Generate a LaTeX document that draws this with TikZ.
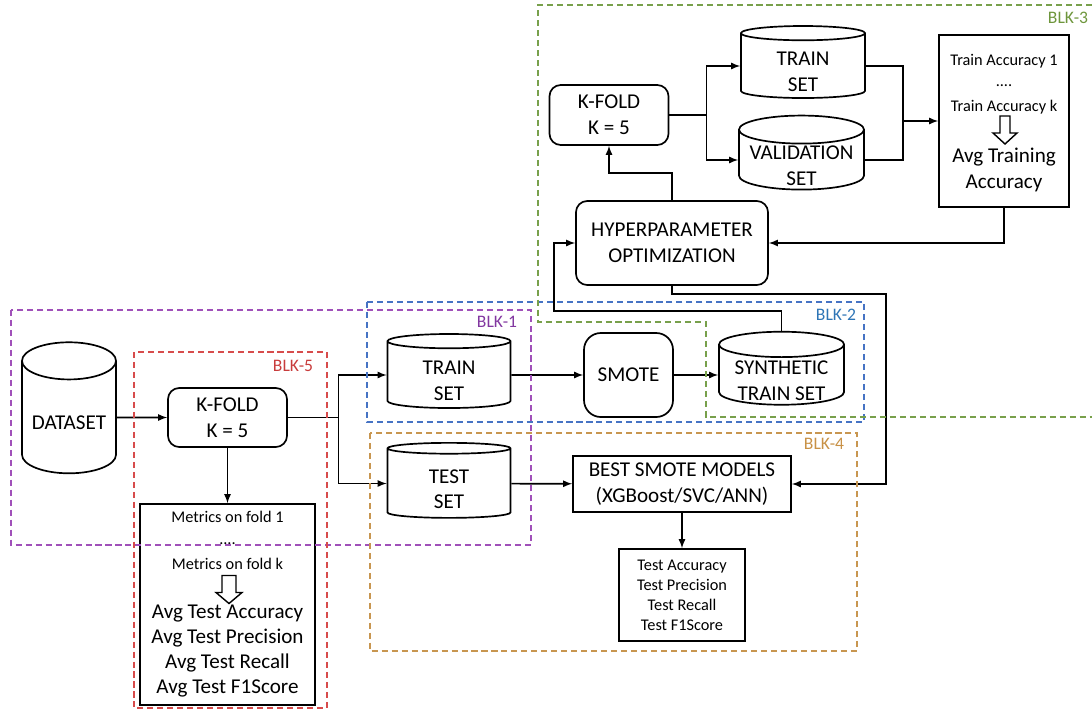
\documentclass[tikz,border=0pt]{standalone}
\usepackage{fontspec}
\setmainfont{Carlito}
\usetikzlibrary{shapes.geometric,positioning}
\definecolor{blkpurple}{RGB}{160,80,185}
\definecolor{blkred}{RGB}{215,75,75}
\definecolor{blkblue}{RGB}{70,115,196}
\definecolor{blkorange}{RGB}{200,150,80}
\definecolor{blkgreen}{RGB}{120,160,75}
\definecolor{lblpurple}{RGB}{130,55,160}
\definecolor{lblred}{RGB}{200,60,60}
\definecolor{lblblue}{RGB}{46,117,182}
\definecolor{lblorange}{RGB}{200,145,70}
\definecolor{lblgreen}{RGB}{110,150,60}
\tikzset{
  big/.style={font=\fontsize{15}{18.3}\selectfont},
  small/.style={font=\fontsize{11.6}{14.2}\selectfont},
  db/.style={cylinder, shape border rotate=90, draw, fill=white, aspect=0.27, align=center,
    inner xsep=0pt, inner ysep=-9pt, big, execute at begin node={\rule{0pt}{#1}}},
  db/.default=36pt,
  rbox/.style={draw, fill=white, rounded corners=8pt, align=center, big},
  sbox/.style={draw, fill=white, align=center},
  blk/.style={dash pattern=on 4.3pt off 2.8pt, line width=1pt},
  blklabel/.style={font=\fontsize{12.5}{15}\selectfont},
  pics/hollowdown/.style n args={2}{code={
    \draw[line width=1pt] (-#1,-14) -- (#1,-14) -- (#1,3) -- (#2,3) -- (0,14) -- (-#2,3) -- (-#1,3) -- cycle;}}
}
\begin{document}
\begin{tikzpicture}[x=0.025cm,y=-0.025cm,>=latex,line width=1.2pt]
\useasboundingbox (0,0) rectangle (1092,711);

% left part
\node[db=17.5pt, aspect=0.5, minimum width=2.35cm, minimum height=3.275cm] (dataset) at (69,417.5) {DATASET};
\node[rbox, minimum width=2.975cm, minimum height=1.475cm] (kfold) at (227.5,417.5) {K-FOLD\\K = 5};
\node[sbox, minimum width=4.375cm, minimum height=5.025cm] (metrics) at (227.5,604.5) {};
\node[small] (fold1) at (227.5,517) {Metrics on fold 1};
\node[small] (dots1) at (227.5,544) {....};
\node[small] (foldk) at (227.5,564) {Metrics on fold k};
\pic at (229,589.5) {hollowdown={7}{13}};
\node[align=center, font=\fontsize{15}{17.8}\selectfont] (avgtest) at (227.5,651)
  {Avg Test Accuracy\\Avg Test Precision\\Avg Test Recall\\Avg Test F1Score};

% middle part
\node[db, minimum width=3.075cm, minimum height=1.85cm] (trainset) at (449,375) {TRAIN\\SET};
\node[db, minimum width=3.075cm, minimum height=1.875cm] (testset) at (449,483.5) {TEST\\SET};
\node[rbox, rounded corners=12pt, minimum width=2.225cm, minimum height=2.1cm] (smote) at (628.5,375) {SMOTE};
\node[db, minimum width=3.125cm, minimum height=1.825cm] (synth) at (781.5,375) {SYNTHETIC\\TRAIN SET};
\node[sbox, big, minimum width=5.45cm, minimum height=1.4cm] (best) at (682,484) {BEST SMOTE MODELS\\(XGBoost/SVC/ANN)};
\node[sbox, small, minimum width=3.15cm, minimum height=2.3cm] (testmet) at (682,595)
  {Test Accuracy\\Test Precision\\Test Recall\\Test F1Score};

% top part
\node[rbox, minimum width=2.975cm, minimum height=1.5cm] (kfoldtop) at (609,115) {K-FOLD\\K = 5};
\node[db, minimum width=3.1cm, minimum height=1.8cm] (traintop) at (803,66) {TRAIN\\SET};
\node[db, minimum width=3.125cm, minimum height=1.85cm] (valid) at (801.5,160) {VALIDATION\\SET};
\node[sbox, minimum width=3.25cm, minimum height=4.3cm] (tracc) at (1004,121) {};
\node[small] (acc1) at (1004,61) {Train Accuracy 1};
\node[small] (dots2) at (1004,86) {....};
\node[small] (acck) at (1004,107) {Train Accuracy k};
\pic at (1005,130) {hollowdown={5}{12}};
\node[big, align=center] (avgtrain) at (1004,170) {Avg Training\\Accuracy};
\node[rbox, minimum width=4.8cm, minimum height=2.1cm] (hyper) at (672,243) {HYPERPARAMETER\\OPTIMIZATION};

% connectors
\draw[->] (dataset) -- (kfold);
\draw (kfold.east) -- ++(50.5,0) coordinate (fork1);
\draw[->] (fork1) |- (trainset);
\draw[->] (fork1) |- (testset);
\draw[->] (kfold) -- (metrics);
\draw[->] (trainset) -- (smote);
\draw[->] (smote) -- (synth);
\draw[->] (testset) -- (best);
\draw[->] (best) -- (testmet);
\coordinate (synthup) at (554,311);
\draw[->] (synth) |- (synthup) |- (hyper);
\coordinate (hyperdown) at (886,294);
\draw[->] (hyper) |- (hyperdown) |- (best);
\coordinate (hyperup) at (609,173);
\draw[->] (hyper) |- (hyperup) -- (kfoldtop);
\draw (kfoldtop.east) -- ++(37,0) coordinate (fork2);
\draw[->] (fork2) |- (traintop);
\draw[->] (fork2) |- (valid);
\coordinate (merge) at (903,121);
\draw (traintop) -| (merge);
\draw (valid) -| (merge);
\draw[->] (merge) -- (tracc);
\draw[->] (tracc) |- (hyper);

% blocks
\draw[blk, blkpurple] (11,310) rectangle (531,545);
\draw[blk, blkred] (134,352) rectangle (327,708);
\draw[blk, blkblue] (367,302) rectangle (864,422);
\draw[blk, blkorange] (370,433) rectangle (857,651);
\draw[blk, blkgreen] (1092,5) -- (538,5) -- (538,322) -- (706,322) -- (706,417) -- (1092,417);
\node[blklabel, text=lblpurple] (lbl1) at (497,322) {BLK-1};
\node[blklabel, text=lblblue] (lbl2) at (836,315) {BLK-2};
\node[blklabel, text=lblgreen] (lbl3) at (1068,18) {BLK-3};
\node[blklabel, text=lblorange] (lbl4) at (824,444) {BLK-4};
\node[blklabel, text=lblred] (lbl5) at (293,366) {BLK-5};
\end{tikzpicture}
\end{document}
